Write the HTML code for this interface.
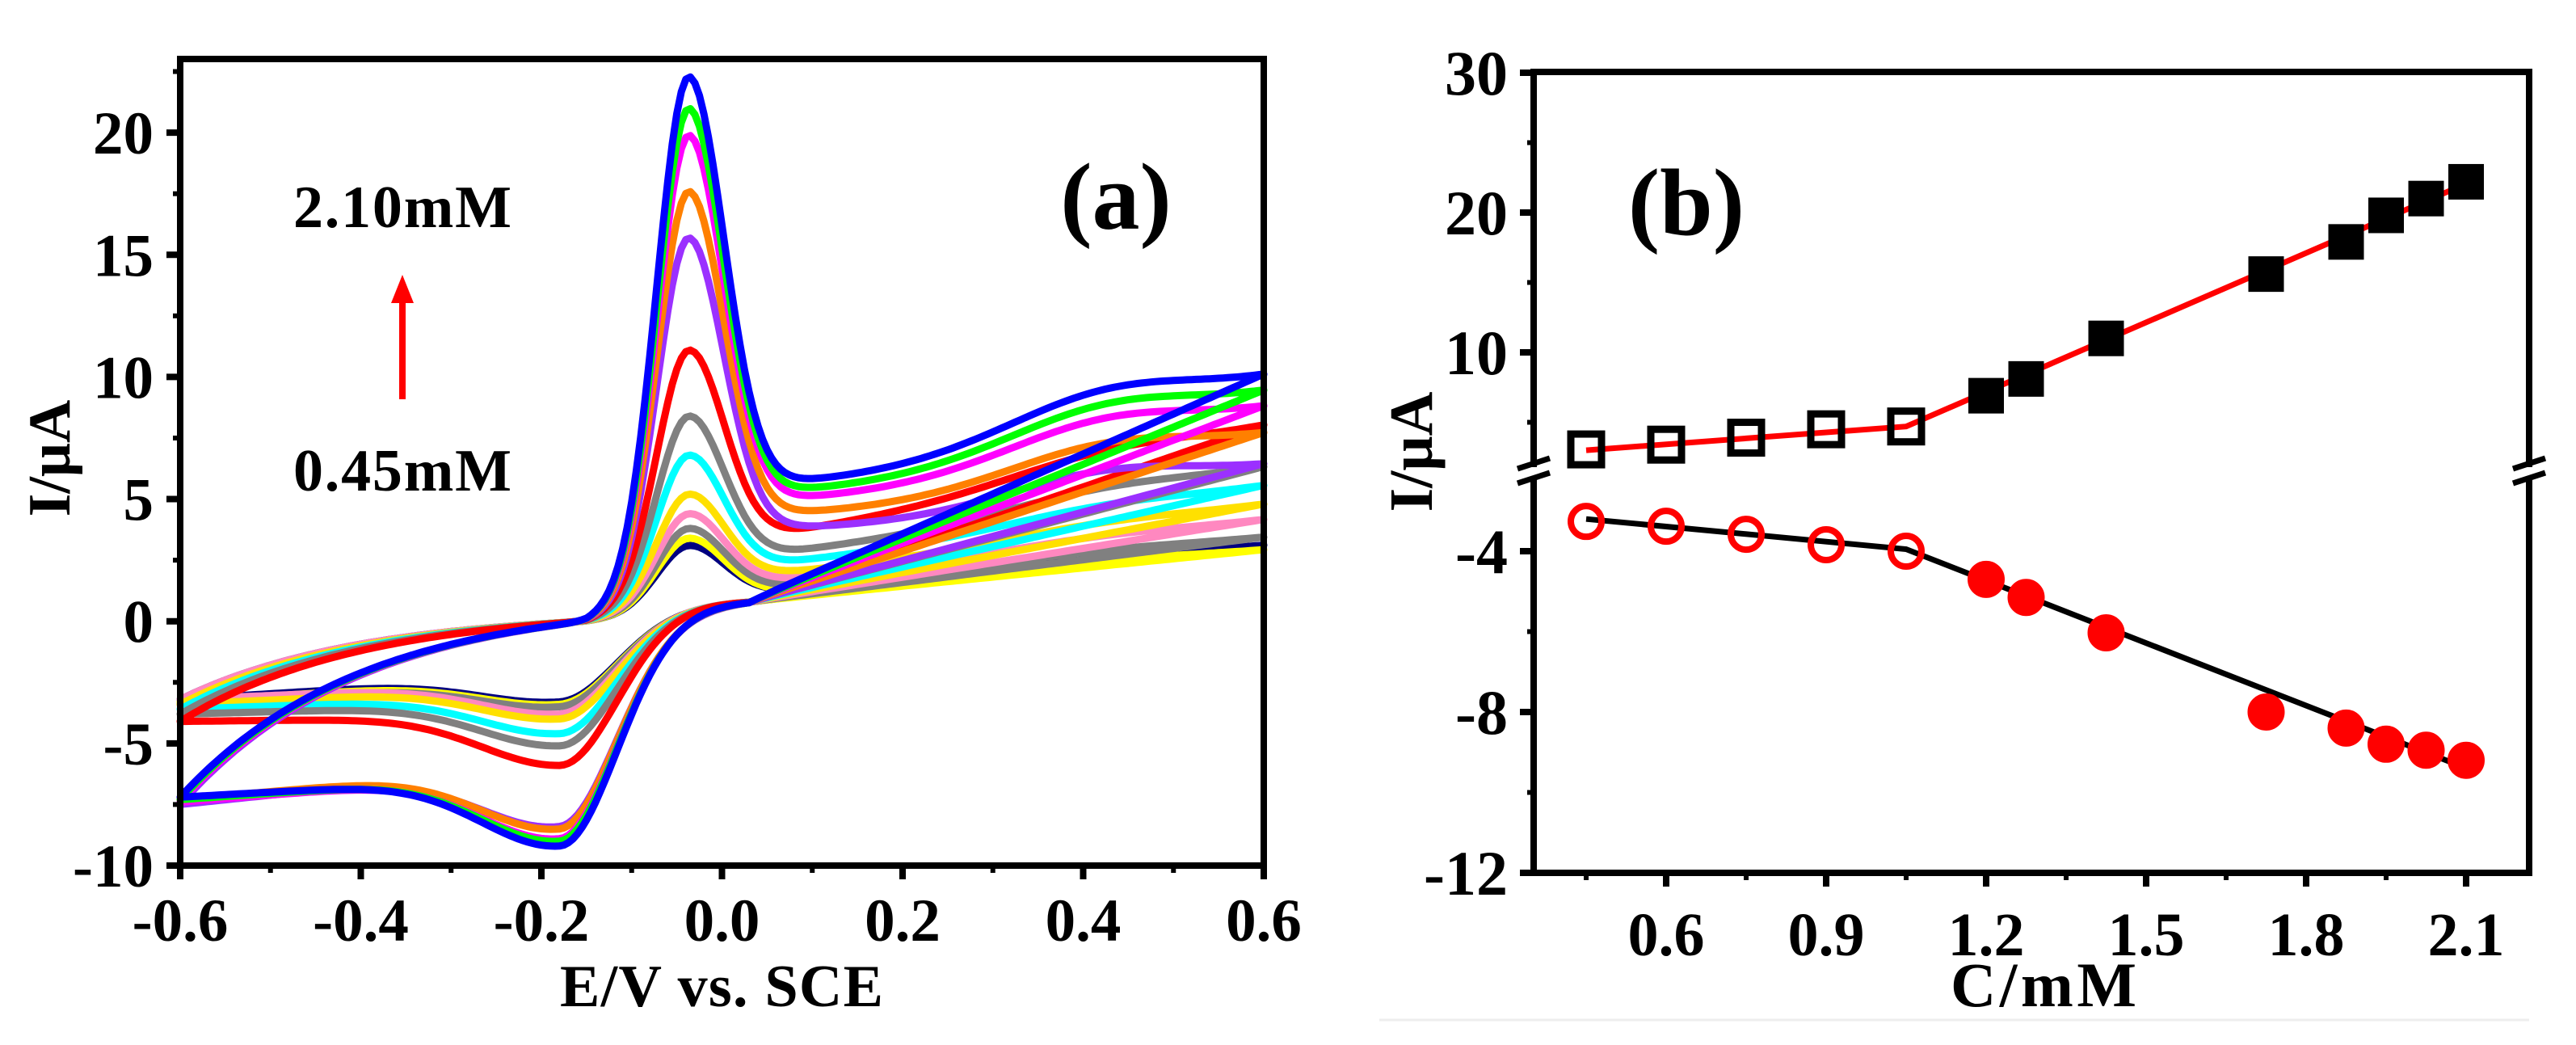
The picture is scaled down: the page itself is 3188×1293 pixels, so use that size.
<!DOCTYPE html>
<html><head><meta charset="utf-8"><style>
html,body{margin:0;padding:0;background:#fff;}
svg{display:block;}
text{font-family:"Liberation Serif",serif;font-weight:bold;fill:#000;}
</style></head><body>
<svg id="svg" width="3188" height="1293" viewBox="0 0 3188 1293" xmlns="http://www.w3.org/2000/svg">
<g id="pa"></g>
<g id="pb"></g>
</svg>
<script>
// ---------- Panel (a) data ----------
const concLabels = ['0.45','0.60','0.75','0.90','1.05','1.20','1.275','1.425','1.725','1.875','1.95','2.025','2.10'];
const cvColors = ['#000080','#ffff00','#808080','#ff88c0','#ffe000','#00ffff','#808080','#ff0000','#9b30ff','#ff8000','#ff00ff','#00ff00','#0000ff'];
const anodicPeak = [3.1,3.4,3.8,4.4,5.2,6.8,8.4,11.1,15.7,17.6,19.9,21.0,22.3];
const cathodicPeak = [-3.3,-3.4,-3.5,-3.8,-4.0,-4.6,-5.1,-5.9,-8.4,-8.5,-8.9,-9.0,-9.2];
const startCurrent = [-3.2,-3.3,-3.4,-3.2,-3.4,-3.6,-3.8,-4.1,-7.5,-7.3,-7.4,-7.3,-7.2];
const endCurrent = [3.0,2.8,3.3,4.0,4.6,5.3,6.0,7.6,5.8,7.0,8.0,8.6,9.2];
const xTicksA = [-0.6,-0.4,-0.2,0.0,0.2,0.4,0.6];
const xTickLabelsA = ['-0.6','-0.4','-0.2','0.0','0.2','0.4','0.6'];
const yTicksA = [-10,-5,0,5,10,15,20];
const yTickLabelsA = ['-10','-5','0','5','10','15','20'];

// ---------- Panel (b) data ----------
const concB = [0.45,0.6,0.75,0.9,1.05,1.2,1.275,1.425,1.725,1.875,1.95,2.025,2.1];
const ipaB = [3.06,3.4,3.9,4.5,4.7,6.9,8.1,11.0,15.6,17.9,19.8,21.0,22.2];
const ipcB = [-3.26,-3.38,-3.58,-3.84,-4.0,-4.7,-5.15,-6.03,-8.0,-8.4,-8.8,-8.95,-9.2];
const fitAx = [0.45,1.05,2.12];
const fitAy = [3.0,4.7,22.4];
const fitCx = [0.45,1.05,2.12];
const fitCy = [-3.2,-3.95,-9.5];
const xTicksB = [0.6,0.9,1.2,1.5,1.8,2.1];
const xTickLabelsB = ['0.6','0.9','1.2','1.5','1.8','2.1'];
const yTicksBUp = [10,20,30];
const yTicksBLow = [-4,-8,-12];

const NS='http://www.w3.org/2000/svg';
function mk(parent,tag,attrs,txt){const e=document.createElementNS(NS,tag);for(const k in attrs)e.setAttribute(k,attrs[k]);if(txt!==undefined)e.textContent=txt;parent.appendChild(e);return e;}

const xA=E=>223+(E+0.6)/1.2*1341;
const yA=v=>1071-(v+10)*30.23;
const xB=c=>2062+(c-0.6)*660;
const yB=v=>v>=0?436-(v-10)*17.3:682-(v+4)*49.75;

const pa=document.getElementById('pa');
const pb=document.getElementById('pb');

// ----- CV curves -----
const cvg=mk(pa,'g',{});


for(let i=0;i<anodicPeak.length;i++){
  const s0=startCurrent[i], e1=endCurrent[i];
  const Ep=-0.037;
  const norm=1-Math.exp(-0.45/0.2);
  const baseF=E=>E<-0.15? s0-s0*(1-Math.exp(-(E+0.6)/0.2))/norm : (E+0.15)/0.75*e1;
  const A=anodicPeak[i]-baseF(Ep);
  const F=E=>{let p;if(E<Ep)p=Math.exp(-Math.pow((E-Ep)/0.05,2));else p=0.8*Math.exp(-Math.pow((E-Ep)/0.055,2))+0.2*Math.exp(-(E-Ep)/0.32);
    return baseF(E)+A*p+0.07*A*Math.exp(-Math.pow((E-0.42)/0.15,2));};
  const F06=F(0.6);
  const t=0.7, Epc=-0.18;
  const C=(0.8+(s0-0.8)/3-cathodicPeak[i])/(1-t/3);
  const b=s0+t*C;
  const baseR=E=>E>=0.03?0.8+(F06-0.8)*(E-0.03)/0.57:0.8+(b-0.8)*(0.03-E)/0.63;
  const R=E=>{let g;if(E>Epc)g=Math.exp(-Math.pow((E-Epc)/0.09,2));else g=t+(1-t)*Math.exp(-Math.pow((E-Epc)/0.12,2));return baseR(E)-C*g;};
  let d='';
  for(let k=0;k<=240;k++){const E=-0.6+k*0.005;d+=(k?'L':'M')+xA(E).toFixed(1)+' '+yA(F(E)).toFixed(1);}
  for(let k=240;k>=0;k--){const E=-0.6+k*0.005;d+='L'+xA(E).toFixed(1)+' '+yA(R(E)).toFixed(1);}
  d+='Z';
  const p=mk(cvg,'path',{d:d,fill:'none',stroke:cvColors[i],'stroke-width':9,'stroke-linejoin':'round'});
  
  
}

// ----- Panel a axes -----
const axA=mk(pa,'g',{});


mk(axA,'rect',{x:223,y:73,width:1341,height:998,fill:'none',stroke:'#000','stroke-width':8});
xTicksA.forEach((v,i)=>{
  mk(axA,'line',{x1:xA(v),y1:1071,x2:xA(v),y2:1088,stroke:'#000','stroke-width':8});
  const tl=mk(axA,'text',{x:xA(v),y:1164,'font-size':75,'text-anchor':'middle'},xTickLabelsA[i]);
  
  
});
for(let v=-0.5;v<0.6;v+=0.2){mk(axA,'line',{x1:xA(v),y1:1071,x2:xA(v),y2:1080,stroke:'#000','stroke-width':6});}
yTicksA.forEach((v,i)=>{
  mk(axA,'line',{x1:206,y1:yA(v),x2:223,y2:yA(v),stroke:'#000','stroke-width':8});
  const tl=mk(axA,'text',{x:190,y:yA(v)+26,'font-size':75,'text-anchor':'end'},yTickLabelsA[i]);
  
  
});
for(let v=-7.5;v<23;v+=5){mk(axA,'line',{x1:214,y1:yA(v),x2:223,y2:yA(v),stroke:'#000','stroke-width':6});}
let t;
t=mk(pa,'text',{x:893,y:1245,'font-size':74,'text-anchor':'middle',textLength:400},'E/V vs. SCE');

t=mk(pa,'text',{x:0,y:0,'font-size':74,'text-anchor':'middle',transform:'translate(86,567) rotate(-90)'},'I/μA');

t=mk(pa,'text',{x:1381,y:283,'font-size':118,'text-anchor':'middle'},'(a)');

t=mk(pa,'text',{x:498,y:281,'font-size':74,'text-anchor':'middle',textLength:270},'2.10mM');

t=mk(pa,'text',{x:498,y:607,'font-size':74,'text-anchor':'middle',textLength:270},'0.45mM');

const arr=mk(pa,'g',{});

mk(arr,'line',{x1:498,y1:494,x2:498,y2:370,stroke:'#ff0000','stroke-width':8});
mk(arr,'polygon',{points:'484,375 512,375 498,340',fill:'#ff0000'});

// ----- Panel b -----
const axB=mk(pb,'g',{});


mk(axB,'line',{x1:1894,y1:89,x2:3134,y2:89,stroke:'#000','stroke-width':8});
mk(axB,'line',{x1:1894,y1:1080,x2:3134,y2:1080,stroke:'#000','stroke-width':8});
[1898,3130].forEach(x=>{
  mk(axB,'line',{x1:x,y1:85,x2:x,y2:578,stroke:'#000','stroke-width':8});
  mk(axB,'line',{x1:x,y1:589,x2:x,y2:1084,stroke:'#000','stroke-width':8});
  mk(axB,'line',{x1:x-20,y1:580,x2:x+20,y2:567,stroke:'#000','stroke-width':7});
  mk(axB,'line',{x1:x-20,y1:598,x2:x+20,y2:585,stroke:'#000','stroke-width':7});
});
xTicksB.forEach((v,i)=>{
  mk(axB,'line',{x1:xB(v),y1:1080,x2:xB(v),y2:1097,stroke:'#000','stroke-width':8});
  const tl=mk(axB,'text',{x:xB(v),y:1182,'font-size':76,'text-anchor':'middle'},xTickLabelsB[i]);
  
});
for(let v=0.45;v<2.2;v+=0.3){mk(axB,'line',{x1:xB(v),y1:1080,x2:xB(v),y2:1089,stroke:'#000','stroke-width':6});}
yTicksBUp.concat(yTicksBLow).forEach(v=>{
  mk(axB,'line',{x1:1881,y1:yB(v),x2:1898,y2:yB(v),stroke:'#000','stroke-width':8});
  const tl=mk(axB,'text',{x:1866,y:yB(v)+27,'font-size':78,'text-anchor':'end'},String(v));
  
});
[5,15,25,-6,-10].forEach(v=>{mk(axB,'line',{x1:1890,y1:yB(v),x2:1898,y2:yB(v),stroke:'#000','stroke-width':6});});
mk(pb,'line',{x1:1707,y1:1262,x2:3130,y2:1262,stroke:'#eeeeee','stroke-width':3});

let dA='',dC='';
fitAx.forEach((x,i)=>{dA+=(i?'L':'M')+xB(x)+' '+yB(fitAy[i]);});
fitCx.forEach((x,i)=>{dC+=(i?'L':'M')+xB(x)+' '+yB(fitCy[i]);});
const fa=mk(pb,'path',{d:dA,fill:'none',stroke:'#ff0000','stroke-width':7});

const fc=mk(pb,'path',{d:dC,fill:'none',stroke:'#000','stroke-width':7});


concB.forEach((c,i)=>{
  const open=c<1.1;
  const sq=mk(pb,'rect',{x:xB(c)-19,y:yB(ipaB[i])-19,width:38,height:38,fill:open?'none':'#000',stroke:'#000','stroke-width':open?9:6});
  
  const ci=mk(pb,'circle',{cx:xB(c),cy:yB(ipcB[i]),r:open?19:22,fill:open?'none':'#ff0000',stroke:'#ff0000','stroke-width':open?8:2});
  
});

t=mk(pb,'text',{x:2529,y:1245,'font-size':78,'text-anchor':'middle',textLength:230},'C/mM');

t=mk(pb,'text',{x:0,y:0,'font-size':76,'text-anchor':'middle',transform:'translate(1772,559) rotate(-90)'},'I/μA');

t=mk(pb,'text',{x:2087,y:290,'font-size':118,'text-anchor':'middle'},'(b)');

</script>
</body></html>
